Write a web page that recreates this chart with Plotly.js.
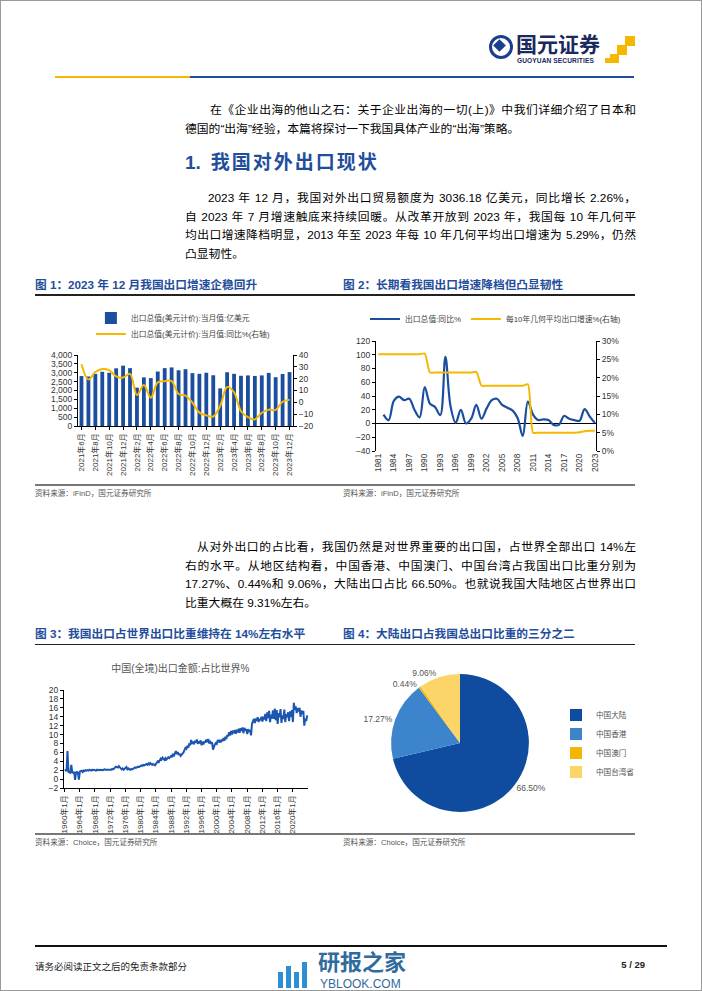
<!DOCTYPE html>
<html><head><meta charset="utf-8">
<script src="https://cdn.plot.ly/plotly-3.0.1.min.js"></script>
<style>
body{margin:0;background:#fff;}
#page{position:relative;width:702px;height:991px;background:#fff;overflow:hidden;font-family:"Liberation Sans","Noto Sans CJK SC",sans-serif;color:#000;box-shadow:inset 0 0 0 1px #9a9a9a;}
.a{position:absolute;}
.ln{position:absolute;left:185px;width:451px;font-size:11.8px;line-height:16px;height:16px;text-align:justify;text-align-last:justify;white-space:normal;overflow:visible;}
.ln.last{text-align:left;text-align-last:left;}
.cap{position:absolute;font-size:11.7px;font-weight:bold;color:#1F4E9C;line-height:14px;white-space:nowrap;}
.src{position:absolute;font-size:7.6px;color:#555;line-height:10px;white-space:nowrap;}
.hr{position:absolute;}
.chart{position:absolute;}
</style></head>
<body><div id="page">
<!-- logo -->
<div class="a" style="left:489px;top:35px;width:18px;height:18px;border:3.5px solid #1B3F8F;border-radius:50%;"></div>
<div class="a" style="left:495px;top:41px;width:9px;height:9px;background:#1B3F8F;transform:rotate(45deg);"></div>
<div class="a" style="left:516px;top:30px;font-size:21px;font-weight:bold;color:#1B2A5C;font-family:'Noto Sans CJK SC';line-height:26px;white-space:nowrap;">国元证券</div>
<div class="a" style="left:517px;top:57px;font-size:6.6px;font-weight:bold;color:#1B2A5C;font-family:'Liberation Sans';line-height:8px;white-space:nowrap;letter-spacing:0.1px;">GUOYUAN SECURITIES</div>
<div class="a" style="left:625px;top:36px;width:10px;height:10px;background:#F5B800;"></div>
<div class="a" style="left:617px;top:45px;width:10px;height:10px;background:#F5B800;"></div>
<div class="a" style="left:610px;top:54px;width:9px;height:9px;background:#F5B800;"></div>
<div class="a" style="left:605px;top:58px;width:5px;height:5px;background:#F5B800;"></div>
<div class="hr" style="left:55px;top:76px;width:135px;height:2px;background:#F5B800;"></div>
<div class="hr" style="left:190px;top:76px;width:444px;height:2px;background:#1F4E9C;"></div>

<!-- paragraph 1 -->
<div class="ln" style="top:102px;padding-left:25px;width:426px;">在《企业出海的他山之石：关于企业出海的一切(上)》中我们详细介绍了日本和</div>
<div class="ln last" style="top:120.5px;">德国的“出海”经验，本篇将探讨一下我国具体产业的“出海”策略。</div>

<div class="a" style="left:185px;top:150px;font-size:19px;font-weight:bold;color:#1F4E9C;line-height:26px;white-space:nowrap;font-family:'Liberation Sans','Noto Sans CJK SC';"><span>1.</span><span style="display:inline-block;width:10px"></span><span style="letter-spacing:2px;">我国对外出口现状</span></div>

<!-- paragraph 2 -->
<div class="ln" style="top:190px;padding-left:23px;width:428px;">2023 年 12 月，我国对外出口贸易额度为 3036.18 亿美元，同比增长 2.26%，</div>
<div class="ln" style="top:208.5px;">自 2023 年 7 月增速触底来持续回暖。从改革开放到 2023 年，我国每 10 年几何平</div>
<div class="ln" style="top:227px;">均出口增速降档明显，2013 年至 2023 年每 10 年几何平均出口增速为 5.29%，仍然</div>
<div class="ln last" style="top:245.5px;">凸显韧性。</div>

<div class="cap" style="left:35px;top:277.5px;">图 1：2023 年 12 月我国出口增速企稳回升</div>
<div class="cap" style="left:343px;top:277.5px;">图 2：长期看我国出口增速降档但凸显韧性</div>
<div class="hr" style="left:35px;top:294px;width:600px;height:1.5px;background:#222;"></div>

<div id="c1" class="chart" style="left:30px;top:300px;width:310px;height:185px;"></div>
<div id="c2" class="chart" style="left:340px;top:300px;width:300px;height:185px;"></div>

<div class="hr" style="left:35px;top:484px;width:600px;height:1.5px;background:#777;"></div>
<div class="src" style="left:35px;top:489px;">资料来源：iFinD，国元证券研究所</div>
<div class="src" style="left:343px;top:489px;">资料来源：iFinD，国元证券研究所</div>

<!-- paragraph 3 -->
<div class="ln" style="top:539px;padding-left:12px;width:439px;">从对外出口的占比看，我国仍然是对世界重要的出口国，占世界全部出口 14%左</div>
<div class="ln" style="top:557.5px;">右的水平。从地区结构看，中国香港、中国澳门、中国台湾占我国出口比重分别为</div>
<div class="ln" style="top:576px;">17.27%、0.44%和 9.06%，大陆出口占比 66.50%。也就说我国大陆地区占世界出口</div>
<div class="ln last" style="top:594.5px;">比重大概在 9.31%左右。</div>

<div class="cap" style="left:35px;top:627px;">图 3：我国出口占世界出口比重维持在 14%左右水平</div>
<div class="cap" style="left:343px;top:627px;">图 4：大陆出口占我国总出口比重的三分之二</div>
<div class="hr" style="left:35px;top:643.5px;width:600px;height:1.5px;background:#222;"></div>

<div id="c3" class="chart" style="left:30px;top:650px;width:310px;height:185px;"></div>
<div id="c4" class="chart" style="left:340px;top:650px;width:300px;height:185px;"></div>

<div class="hr" style="left:35px;top:833px;width:600px;height:1.5px;background:#777;"></div>
<div class="src" style="left:35px;top:838px;">资料来源：Choice，国元证券研究所</div>
<div class="src" style="left:343px;top:838px;">资料来源：Choice，国元证券研究所</div>

<!-- footer -->
<div class="hr" style="left:35px;top:945px;width:632px;height:2px;background:#111;"></div>
<div class="a" style="left:35px;top:959px;font-size:9.5px;color:#222;white-space:nowrap;">请务必阅读正文之后的免责条款部分</div>
<div class="a" style="left:600px;top:959px;width:45px;text-align:right;font-size:9.5px;font-weight:bold;color:#222;white-space:nowrap;">5 / 29</div>
<div class="a" style="left:278px;top:972px;width:5px;height:16px;background:#2B8FD1;"></div>
<div class="a" style="left:286px;top:966px;width:5px;height:22px;background:#2B8FD1;"></div>
<div class="a" style="left:294px;top:972px;width:5px;height:16px;background:#2B8FD1;"></div>
<div class="a" style="left:302px;top:962px;width:5px;height:26px;background:#2B8FD1;"></div>
<div class="a" style="left:318px;top:949px;font-size:22px;font-weight:bold;color:#2F6B9C;font-family:'Noto Sans CJK SC';line-height:22px;height:22px;white-space:nowrap;">研报之家</div>
<div class="a" style="left:320px;top:978px;font-size:12px;color:#2F6B9C;font-family:'Liberation Sans';line-height:12px;white-space:nowrap;">YBLOOK.COM</div>
</div>

<script>
// ---------- Chart 1 data ----------
const c1Months = ['2021年6月','2021年7月','2021年8月','2021年9月','2021年10月','2021年11月','2021年12月',
 '2022年1月','2022年2月','2022年3月','2022年4月','2022年5月','2022年6月','2022年7月','2022年8月','2022年9月','2022年10月','2022年11月','2022年12月',
 '2023年1月','2023年2月','2023年3月','2023年4月','2023年5月','2023年6月','2023年7月','2023年8月','2023年9月','2023年10月','2023年11月','2023年12月'];
const c1Exports = [2814,2790,2940,3057,3000,3250,3400,3260,2160,2740,2700,3070,3260,3300,3140,3200,2980,2940,3000,2860,2120,3030,2940,2830,2850,2820,2850,2990,2750,2930,3036.18];
const c1YoY = [32.2,19.3,25.6,28.1,27.1,22.0,20.9,24.1,6.2,14.7,3.9,16.9,17.9,18.0,7.1,5.7,-0.3,-8.7,-11.0,-12.0,-3.0,13.0,8.5,-7.5,-12.4,-14.5,-8.8,-6.2,-6.4,0.5,2.26];
const c1TickLabels = ['2021年6月','2021年8月','2021年10月','2021年12月','2022年2月','2022年4月','2022年6月','2022年8月','2022年10月','2022年12月','2023年2月','2023年4月','2023年6月','2023年8月','2023年10月','2023年12月'];
const c1Names = ['出口总值(美元计价):当月值:亿美元','出口总值(美元计价):当月值:同比%(右轴)'];

// ---------- Chart 2 data ----------
const c2Years = [1981,1982,1983,1984,1985,1986,1987,1988,1989,1990,1991,1992,1993,1994,1995,1996,1997,1998,1999,2000,2001,2002,2003,2004,2005,2006,2007,2008,2009,2010,2011,2012,2013,2014,2015,2016,2017,2018,2019,2020,2021,2022,2023];
const c2Growth = [null,13,5,33,39,34,36,20,9,53,29,24,12,97,25,1,20,0,7,27,7,22,34,36,27,23,19,8,-18,32,13,5,6,5,-2,-2,11,7,5,4,21,10,0.6];
const c2Geo10 = [26.4,26.4,26.4,26.4,26.4,26.4,26.4,26.4,26.4,26.6,21.4,21.4,21.4,21.4,21.4,21.4,21.4,21.4,21.4,21.6,17.8,17.8,17.8,17.8,17.8,17.8,17.8,17.8,17.8,18.2,5.0,5.0,5.0,5.0,5.0,5.0,5.0,5.0,5.0,5.1,5.4,5.5,5.5];
const c2TickYears = [1981,1984,1987,1990,1993,1996,1999,2002,2005,2008,2011,2014,2017,2020,2023];
const c2Names = ['出口总值:同比%','每10年几何平均出口增速%(右轴)'];

// ---------- Chart 3 data (quarterly readings, 1960Q1 - 2023Q4) ----------
const c3Share = [
1.9,2.0,1.8,6.3, 1.6,1.5,1.4,3.2, 1.5,1.4,1.6,-0.2, 1.5,1.6,1.4,-0.1, 1.7,1.8,1.9,1.6,
1.9,1.8,2.0,1.9, 2.0,1.9,2.1,2.0, 1.9,2.1,2.0,2.1, 2.0,1.9,2.1,2.0, 2.1,2.0,2.1,2.0,
2.0,2.1,2.2,2.1, 2.1,2.2,2.1,2.2, 2.2,2.1,2.3,2.2, 2.4,2.6,2.8,2.7, 2.6,2.9,2.5,2.4,
2.2,2.4,2.1,2.3, 2.5,2.7,2.2,2.4, 2.2,2.1,2.3,2.2, 2.3,2.4,2.6,2.5, 2.6,2.8,2.7,2.9,
2.9,3.1,3.0,3.2, 3.1,3.3,3.4,3.2, 3.5,3.3,3.6,3.4, 3.2,3.4,3.3,3.1, 3.4,3.6,4.0,3.8,
4.2,4.6,4.4,4.8, 4.5,4.3,4.7,4.4, 4.6,4.9,4.7,5.0, 5.2,4.9,5.5,5.3, 5.8,6.3,5.6,6.1,
5.4,5.7,5.2,5.5, 5.6,6.0,6.5,7.0, 6.8,7.5,7.0,8.0, 7.6,8.8,7.9,8.4, 7.8,8.6,8.2,8.9,
7.9,8.5,8.0,8.7, 7.6,8.4,7.8,8.5, 8.2,8.9,8.3,9.0, 8.0,8.6,7.9,8.3, 6.6,7.4,7.8,8.1,
7.9,8.8,8.3,8.6, 8.2,8.9,8.5,9.2, 8.6,9.5,9.0,9.9, 9.6,10.5,9.8,10.8, 10.0,10.9,10.3,11.0,
10.2,11.1,10.5,11.3, 10.4,11.4,10.8,11.6, 10.3,11.5,10.9,11.2, 10.1,11.2,10.6,11.0, 9.8,12.4,12.8,13.5,
12.6,13.6,13.1,13.9, 12.8,13.5,13.2,14.0, 12.9,14.0,13.4,14.6, 13.0,15.0,13.7,15.3, 12.8,14.5,13.6,15.4,
13.5,15.8,13.2,15.5, 12.4,14.8,13.9,15.7, 12.6,14.3,13.5,15.6, 12.8,14.6,13.9,15.0, 13.0,15.2,14.0,15.5,
12.8,17.1,15.6,16.3, 14.8,15.9,15.2,16.0, 14.0,15.4,14.6,15.3, 12.0,13.6,13.0,14.3];
const c3StartYear = 1960;
const c3TickDates = ['1960-01-01','1964-01-01','1968-01-01','1972-01-01','1976-01-01','1980-01-01','1984-01-01','1988-01-01','1992-01-01','1996-01-01','2000-01-01','2004-01-01','2008-01-01','2012-01-01','2016-01-01','2020-01-01'];
const c3TickLabels = ['1960年1月','1964年1月','1968年1月','1972年1月','1976年1月','1980年1月','1984年1月','1988年1月','1992年1月','1996年1月','2000年1月','2004年1月','2008年1月','2012年1月','2016年1月','2020年1月'];
const c3Title = '中国(全境)出口金额:占比世界%';

// ---------- Chart 4 data ----------
const c4Labels = ['中国大陆','中国香港','中国澳门','中国台湾省'];
const c4Values = [66.50,17.27,0.44,9.06];
const c4Colors = ['#0F4C9F','#3C84CC','#F2B705','#FBD567'];

const FONT = 'Liberation Sans, Noto Sans CJK SC, sans-serif';
const cfg = {staticPlot:true, displayModeBar:false};
const BLUE = '#1B4E9E', GOLD = '#F5B800';

// Chart 1
Plotly.newPlot('c1', [
  {type:'bar', x:c1Months, y:c1Exports, name:c1Names[0], marker:{color:BLUE}, yaxis:'y', legend:'legend'},
  {type:'scatter', mode:'lines', x:c1Months, y:c1YoY, name:c1Names[1], line:{color:GOLD, width:2, shape:'spline', smoothing:1}, yaxis:'y2', legend:'legend2'}
], {
  width:310, height:185, margin:{l:48, r:47, t:55, b:59, autoexpand:false},
  paper_bgcolor:'rgba(0,0,0,0)', plot_bgcolor:'rgba(0,0,0,0)',
  font:{family:FONT, size:8.5, color:'#333'},
  bargap:0.45, showlegend:true,
  legend:{x:0.06, xanchor:'left', y:1.52, yanchor:'middle', font:{size:7.8, color:'#444'}, bgcolor:'rgba(0,0,0,0)', itemwidth:30},
  legend2:{x:0.06, xanchor:'left', y:1.295, yanchor:'middle', font:{size:7.8, color:'#444'}, bgcolor:'rgba(0,0,0,0)', itemwidth:30},
  xaxis:{type:'category', tickangle:-90, tickvals:c1TickLabels, ticktext:c1TickLabels, showline:true, linecolor:'#000', linewidth:1, ticks:'outside', ticklen:3, tickcolor:'#000', tickfont:{size:8}, showgrid:false},
  yaxis:{range:[0,4000], dtick:500, tickformat:',', showline:true, linecolor:'#000', ticks:'outside', ticklen:3, tickcolor:'#000', showgrid:false, zeroline:false, tickfont:{size:8.5}},
  yaxis2:{overlaying:'y', side:'right', range:[-20,40], dtick:10, showline:true, linecolor:'#000', ticks:'outside', ticklen:3, tickcolor:'#000', showgrid:false, zeroline:false, tickfont:{size:8.5}}
}, cfg);

// Chart 2
Plotly.newPlot('c2', [
  {type:'scatter', mode:'lines', x:c2Years, y:c2Growth, name:c2Names[0], line:{color:'#1B4E9E', width:2.2, shape:'spline', smoothing:1}, yaxis:'y', connectgaps:false},
  {type:'scatter', mode:'lines', x:c2Years, y:c2Geo10, name:c2Names[1], line:{color:GOLD, width:2, shape:'spline', smoothing:0.6}, yaxis:'y2'}
], {
  width:300, height:185, margin:{l:36, r:44, t:41, b:34, autoexpand:false},
  paper_bgcolor:'rgba(0,0,0,0)', plot_bgcolor:'rgba(0,0,0,0)',
  font:{family:FONT, size:8.5, color:'#333'},
  showlegend:true,
  legend:{x:-0.05, xanchor:'left', y:1.2, yanchor:'middle', orientation:'h', font:{size:7.8, color:'#444'}, bgcolor:'rgba(0,0,0,0)', itemwidth:30},
  xaxis:{range:[1980.55,2023.2], tickvals:c2TickYears, tickangle:-90, showline:false, showgrid:false, zeroline:false, ticks:'', tickfont:{size:8.3}},
  yaxis:{range:[-40,120], dtick:20, showline:true, linecolor:'#000', ticks:'outside', ticklen:3, tickcolor:'#000', showgrid:false, zeroline:true, zerolinecolor:'#000', zerolinewidth:1, tickfont:{size:8.5}},
  yaxis2:{overlaying:'y', side:'right', range:[0,30], dtick:5, ticksuffix:'%', showline:true, linecolor:'#000', ticks:'outside', ticklen:3, tickcolor:'#000', showgrid:false, zeroline:false, tickfont:{size:8.5}}
}, cfg);

// Chart 3
const c3Dates = c3Share.map((v,i)=>{const y=c3StartYear+Math.floor(i/4); const m=1+3*(i%4); return y+'-'+String(m).padStart(2,'0')+'-15';});
Plotly.newPlot('c3', [
  {type:'scatter', mode:'lines', x:c3Dates, y:c3Share, name:c3Title, line:{color:'#1C56B0', width:2}}
], {
  width:310, height:185, margin:{l:34, r:32, t:40, b:47, autoexpand:false},
  paper_bgcolor:'rgba(0,0,0,0)', plot_bgcolor:'rgba(0,0,0,0)',
  font:{family:FONT, size:8.5, color:'#333'},
  showlegend:false,
  title:{text:c3Title, font:{size:10, color:'#555', family:FONT}, x:0.485, xref:'container', xanchor:'center', y:0.9, yref:'container', yanchor:'middle'},
  xaxis:{type:'date', range:['1959-11-15','2024-01-05'], tickvals:c3TickDates, ticktext:c3TickLabels, tickangle:-90, showline:true, linecolor:'#000', ticks:'outside', ticklen:3, tickcolor:'#000', showgrid:false, zeroline:false, tickfont:{size:8}},
  yaxis:{range:[-2,20], dtick:2, showline:true, linecolor:'#000', ticks:'outside', ticklen:3, tickcolor:'#000', showgrid:false, zeroline:false, tickfont:{size:8.5}}
}, cfg);

// Chart 4
Plotly.newPlot('c4', [
  {type:'pie', labels:c4Labels, values:c4Values, marker:{colors:c4Colors, line:{color:'#fff', width:0}},
   sort:false, direction:'clockwise', rotation:0,
   text:c4Values.map(v=>v.toFixed(2)+'%'), textinfo:'text', textposition:'outside', hoverinfo:'none',
   outsidetextfont:{size:8.5, color:'#555', family:FONT},
   domain:{x:[0.17,0.63], y:[0.125,0.87]}}
], {
  width:300, height:185, margin:{l:0, r:0, t:0, b:0, autoexpand:false},
  paper_bgcolor:'rgba(0,0,0,0)',
  font:{family:FONT, size:8, color:'#555'},
  showlegend:true,
  legend:{x:0.72, xanchor:'left', y:0.727, yanchor:'top', font:{size:7.6, color:'#555'}, bgcolor:'rgba(0,0,0,0)', itemwidth:30}
}, cfg);
</script>
</body></html>
